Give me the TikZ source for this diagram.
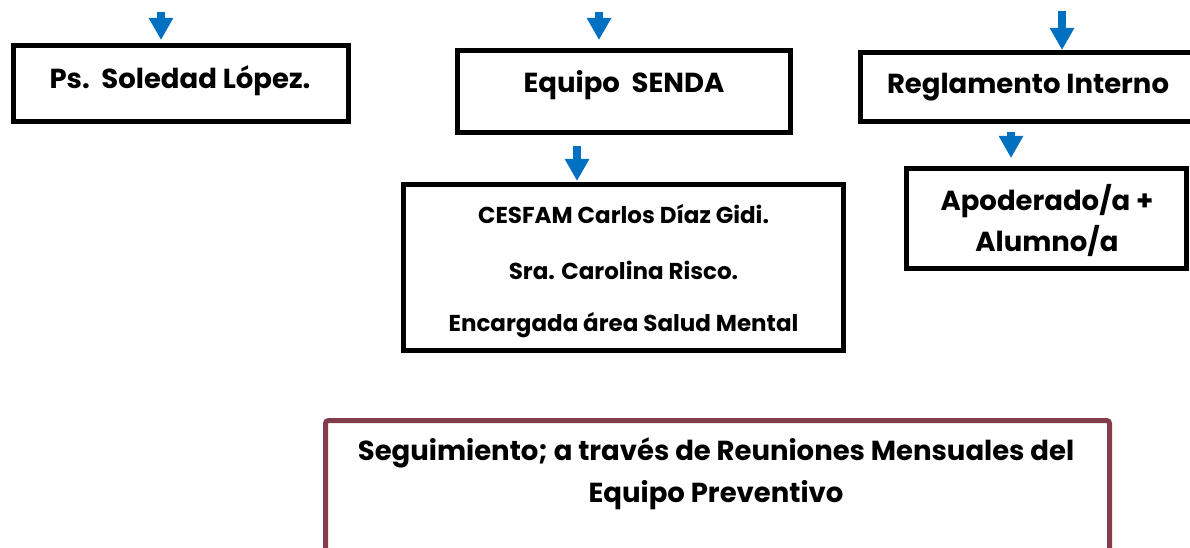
\documentclass[tikz,border=0pt]{standalone}
\usepackage{fontspec}
\setmainfont{Poppins}
\usetikzlibrary{arrows.meta}
\definecolor{arrowblue}{HTML}{0070C0}
\definecolor{maroon}{HTML}{833C4B}
\tikzset{
  box/.style={draw=black, line width=5pt, rectangle, inner sep=0pt},
  txt/.style={font=\bfseries\fontsize{27.5}{32}\selectfont, inner sep=0pt, align=center},
  smalltxt/.style={font=\bfseries\fontsize{23}{27}\selectfont, inner sep=0pt, align=center},
  arr/.style={draw=arrowblue, line width=8pt, -{Triangle[width=23pt,length=22pt]}, arrowblue, shorten >=0pt}
}
\begin{document}
\begin{tikzpicture}[x=1pt,y=-1pt]
\useasboundingbox (0,0) rectangle (1190,548);
\clip (0,0) rectangle (1190,548);
% boxes
\node[box, minimum width=335pt, minimum height=76pt] (b1) at (181,83.5) {};
\node[box, minimum width=333pt, minimum height=82pt] (b2) at (624,91.5) {};
\node[box, minimum width=440pt, minimum height=166pt] (b3) at (623.5,267.5) {};
\node[box, minimum width=340pt, minimum height=69.5pt] (b4) at (1030.5,87.25) {};
\node[box, minimum width=280pt, minimum height=100pt] (b5) at (1046.5,218.5) {};
\node[draw=maroon, line width=5pt, rounded corners=3pt, minimum width=784pt, minimum height=200pt, inner sep=0pt] (b6) at (717.5,520.5) {};
% texts
\node[txt] (t1) at (180,81) {Ps.\ \ Soledad López.};
\node[txt] (t2) at (624,85) {Equipo\ \ SENDA};
\node[smalltxt] (t3a) at (623.5,214) {CESFAM Carlos Díaz Gidi.};
\node[smalltxt] (t3b) at (623.5,270) {Sra. Carolina Risco.};
\node[smalltxt] (t3c) at (623.5,325) {Encargada área Salud Mental};
\node[txt] (t4) at (1028,87) {Reglamento Interno};
\node[txt] (t5a) at (1047,201) {Apoderado/a +};
\node[txt] (t5b) at (1047,241) {Alumno/a};
\node[txt] (t6a) at (716,453) {Seguimiento; a través de Reuniones Mensuales del};
\node[txt] (t6b) at (716,495) {Equipo Preventivo};
% arrows
\coordinate (s1) at (161,12);
\coordinate (e1) at (161,40);
\coordinate (s2) at (599,12);
\coordinate (e2) at (599,40);
\coordinate (s3) at (1062,11);
\coordinate (e3) at (1062,50);
\coordinate (s4) at (577,146);
\coordinate (e4) at (577,181);
\coordinate (s5) at (1011,132);
\coordinate (e5) at (1011,158);
\draw[arr] (s1) -- (e1);
\draw[arr] (s2) -- (e2);
\draw[arr] (s3) -- (e3);
\draw[arr] (s4) -- (e4);
\draw[arr] (s5) -- (e5);
\end{tikzpicture}
\end{document}
